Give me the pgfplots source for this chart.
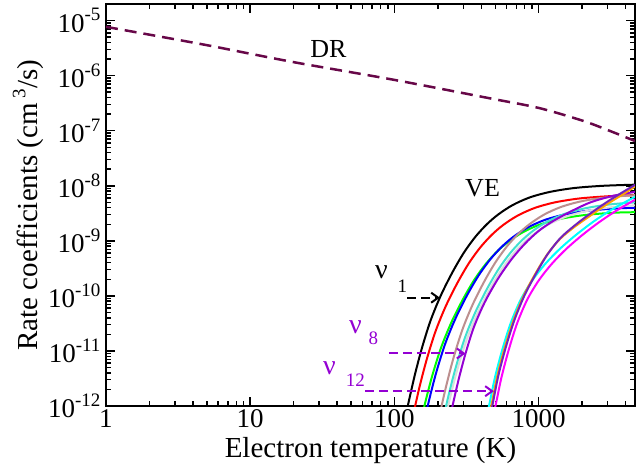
\documentclass[border=0pt]{standalone}
\usepackage{fontspec}
\setmainfont{Liberation Serif}
\usepackage{pgfplots}
\pgfplotsset{compat=1.18}
\usetikzlibrary{arrows.meta}
\definecolor{grmaroon}{RGB}{103,7,72}
\definecolor{grred}{RGB}{255,0,0}
\definecolor{grgreen}{RGB}{0,255,0}
\definecolor{grblue}{RGB}{0,0,255}
\definecolor{grbrown}{RGB}{188,143,143}
\definecolor{grgrey}{RGB}{220,220,220}
\definecolor{grviolet}{RGB}{148,0,211}
\definecolor{grcyan}{RGB}{0,255,255}
\definecolor{grmagenta}{RGB}{255,0,255}
\definecolor{grorange}{RGB}{255,165,0}
\definecolor{grindigo}{RGB}{114,33,188}
\definecolor{grturq}{RGB}{64,224,208}
\newcommand{\grsup}[1]{\raisebox{0.42em}{\fontsize{19}{20}\selectfont #1}}
\begin{document}
\begin{tikzpicture}
\path[use as bounding box] (-106pt,-60pt) rectangle (535pt,406pt);
\begin{axis}[
  at={(0,0)}, anchor=south west,
  scale only axis, width=529pt, height=402pt,
  xmode=log, ymode=log,
  xmin=1, xmax=4650, ymin=1e-12, ymax=2e-5,
  xtick={1,10,100,1000}, xticklabels={1,10,100,1000},
  ytick={1e-12,1e-11,1e-10,1e-9,1e-8,1e-7,1e-6,1e-5},
  yticklabels={10\grsup{-12},10\grsup{-11},10\grsup{-10},10\grsup{-9},10\grsup{-8},10\grsup{-7},10\grsup{-6},10\grsup{-5}},
  xminorticks=false, yminorticks=false,
  tick align=inside, major tick length=9pt,
  tick style={draw=black, line width=1.5pt},
  axis line style={line width=2pt},
  tick label style={font=\fontsize{27}{30}\selectfont},
  yticklabel style={xshift=-2pt},
  xlabel={Electron temperature (K)},
  ylabel={Rate coefficients (cm\,\grsup{3}/s)},
  label style={font=\fontsize{29}{32}\selectfont},
  xlabel style={at={(axis description cs:0.5,-0.11)}, anchor=center},
  ylabel style={at={(axis description cs:-0.147,0.5)}, anchor=center},
  every axis plot/.append style={line width=2pt, smooth, tension=0.5},
]
% tick marks as short segments along the frame
\pgfplotsinvokeforeach{2,3,4,5,6,7,8,9,20,30,40,50,60,70,80,90,200,300,400,500,600,700,800,900,2000,3000,4000}{
  \addplot[black, line width=1.5pt, sharp plot, forget plot] coordinates {(#1,1e-12) (#1,1.23e-12)};
  \addplot[black, line width=1.5pt, sharp plot, forget plot] coordinates {(#1,2e-5) (#1,1.63e-5)};
}
\pgfplotsinvokeforeach{1,10,100,1000}{
  \addplot[black, line width=1.5pt, sharp plot, forget plot] coordinates {(#1,1e-12) (#1,1.46e-12)};
  \addplot[black, line width=1.5pt, sharp plot, forget plot] coordinates {(#1,2e-5) (#1,1.37e-5)};
}
\pgfplotsinvokeforeach{2e-12,3e-12,4e-12,5e-12,6e-12,7e-12,8e-12,9e-12,2e-11,3e-11,4e-11,5e-11,6e-11,7e-11,8e-11,9e-11,2e-10,3e-10,4e-10,5e-10,6e-10,7e-10,8e-10,9e-10,2e-9,3e-9,4e-9,5e-9,6e-9,7e-9,8e-9,9e-9,2e-8,3e-8,4e-8,5e-8,6e-8,7e-8,8e-8,9e-8,2e-7,3e-7,4e-7,5e-7,6e-7,7e-7,8e-7,9e-7,2e-6,3e-6,4e-6,5e-6,6e-6,7e-6,8e-6,9e-6}{
  \addplot[black, line width=1.5pt, sharp plot, forget plot] coordinates {(1,#1) (1.083,#1)};
  \addplot[black, line width=1.5pt, sharp plot, forget plot] coordinates {(4650,#1) (4294,#1)};
}
\pgfplotsinvokeforeach{1e-12,1e-11,1e-10,1e-9,1e-8,1e-7,1e-6,1e-5}{
  \addplot[black, line width=1.5pt, sharp plot, forget plot] coordinates {(1,#1) (1.155,#1)};
  \addplot[black, line width=1.5pt, sharp plot, forget plot] coordinates {(4650,#1) (4026,#1)};
}
\addplot[grmaroon, line width=2.5pt, dash pattern=on 12pt off 7pt] coordinates {
(1,7.7e-6) (4.5,3.77e-6) (10,2.5e-6) (22,1.68e-6) (100,8.36e-7) (464,3.85e-7) (1000,2.59e-7) (2000,1.53e-7) (3000,1.03e-7) (4650,6.5e-8)};
\addplot[black] coordinates {
(114.8,4.17e-13) (123.6,1e-12) (138.0,3.55e-12) (154.9,1.122e-11) (177.8,3.55e-11) (208.9,1e-10) (251.2,2.63e-10) (302.0,6.03e-10) (363.1,1.175e-9) (436.5,1.995e-9) (524.8,3.02e-9) (660.7,4.47e-9) (871.0,6.17e-9) (1202,7.76e-9) (1778,9.12e-9) (2818,1e-8) (4677,1.047e-8)};
\addplot[grred] coordinates {
(124.5,2.69e-13) (134.0,6.46e-13) (149.6,2.29e-12) (167.9,7.24e-12) (192.8,2.29e-11) (226.5,6.46e-11) (272.3,1.698e-10) (327.3,3.89e-10) (393.6,7.59e-10) (473.2,1.288e-9) (568.9,1.95e-9) (716.1,2.88e-9) (944.1,3.98e-9) (1303,5.01e-9) (1928,5.89e-9) (3055,6.46e-9) (4677,6.76e-9)};
\addplot[grgreen] coordinates {
(146.2,3.24e-13) (163.3,1.148e-12) (183.2,3.63e-12) (210.4,1.148e-11) (247.2,3.24e-11) (297.2,8.51e-11) (357.3,1.95e-10) (429.5,3.8e-10) (516.4,6.46e-10) (620.9,9.77e-10) (781.6,1.445e-9) (1030,1.995e-9) (1422,2.51e-9) (2104,2.95e-9) (3334,3.24e-9) (4677,3.31e-9)};
\addplot[grblue] coordinates {
(156.7,3.89e-13) (175.0,1.38e-12) (196.3,4.37e-12) (225.4,1.38e-11) (264.9,3.89e-11) (318.4,1.023e-10) (382.8,2.34e-10) (460.3,4.57e-10) (553.4,7.76e-10) (665.3,1.175e-9) (837.5,1.74e-9) (1104,2.40e-9) (1524,3.02e-9) (2254,3.55e-9) (3573,3.89e-9) (4677,3.98e-9)};
\addplot[grbrown] coordinates {
(190.5,2.82e-13) (205.1,6.76e-13) (229.1,2.40e-12) (257.0,7.59e-12) (295.1,2.40e-11) (346.7,6.76e-11) (416.9,1.778e-10) (501.2,4.07e-10) (602.6,7.94e-10) (724.4,1.349e-9) (871.0,2.04e-9) (1096,3.02e-9) (1445,4.17e-9) (1995,5.25e-9) (2951,6.17e-9) (4677,6.76e-9)};
\addplot[grgrey] coordinates {
(204.2,1.86e-13) (219.8,4.47e-13) (245.5,1.585e-12) (275.4,5.01e-12) (316.2,1.585e-11) (371.5,4.47e-11) (446.7,1.175e-10) (537.0,2.69e-10) (645.7,5.25e-10) (776.2,8.91e-10) (933.3,1.349e-9) (1175,1.995e-9) (1549,2.75e-9) (2138,3.47e-9) (3162,4.07e-9) (4677,4.42e-9)};
\addplot[grturq] coordinates {
(199.5,2.09e-13) (214.8,5.01e-13) (239.9,1.778e-12) (269.2,5.62e-12) (309.0,1.778e-11) (363.1,5.01e-11) (436.5,1.318e-10) (524.8,3.02e-10) (631.0,5.89e-10) (758.6,1e-9) (912.0,1.514e-9) (1148,2.24e-9) (1514,3.09e-9) (2089,3.89e-9) (3090,4.57e-9) (4677,5.01e-9)};
\addplot[grviolet] coordinates {
(229.1,3.16e-13) (246.6,7.59e-13) (275.4,2.69e-12) (309.0,8.51e-12) (354.8,2.69e-11) (421.7,7.59e-11) (518.8,1.995e-10) (645.7,4.57e-10) (803.5,8.91e-10) (1000,1.514e-9) (1259,2.29e-9) (1660,3.39e-9) (2291,5.01e-9) (3311,6.61e-9) (4677,7.76e-9)};
\addplot[grcyan] coordinates {
(421.7,5.01e-13) (451.9,1e-12) (495.5,3.16e-12) (555.9,1e-11) (638.3,3.16e-11) (749.9,8.51e-11) (901.6,1.905e-10) (1109,3.80e-10) (1396,7.08e-10) (1799,1.259e-9) (2371,2.19e-9) (3126,3.55e-9) (4217,5.50e-9) (4677,6.31e-9)};
\addplot[grmagenta] coordinates {
(467.7,5.01e-13) (501.2,1e-12) (549.5,3.16e-12) (616.6,1e-11) (707.9,3.16e-11) (831.8,8.51e-11) (1000,1.905e-10) (1230,3.80e-10) (1549,7.08e-10) (1995,1.259e-9) (2630,2.19e-9) (3467,3.55e-9) (4677,5.62e-9)};
\addplot[grorange] coordinates {
(439.5,4.47e-13) (468.8,1e-12) (516.4,3.55e-12) (579.4,1.122e-11) (666.8,3.55e-11) (785.2,1e-10) (946.2,2.51e-10) (1143,5.62e-10) (1413,1.096e-9) (1786,1.82e-9) (2317,2.95e-9) (2999,4.68e-9) (3864,7.08e-9) (4677,9.77e-9)};
\addplot[grindigo] coordinates {
(446.7,4.47e-13) (476.4,1e-12) (524.8,3.55e-12) (588.8,1.122e-11) (676.1,3.55e-11) (794.3,1e-10) (955.0,2.51e-10) (1148,5.62e-10) (1413,1.122e-9) (1778,1.905e-9) (2291,3.16e-9) (2951,5.01e-9) (3802,7.59e-9) (4677,1.047e-8)};
% arrows
\addplot[color=black, draw=black, sharp plot, line width=2pt, dash pattern=on 9pt off 5pt, -{Straight Barb[length=7pt,width=10pt]}] coordinates {(122.5,9.27e-11) (206.5,9.27e-11)};
\addplot[color=grviolet, draw=grviolet, sharp plot, line width=2pt, dash pattern=on 9pt off 5pt, -{Straight Barb[length=7pt,width=10pt]}] coordinates {(91.3,9.0e-12) (311,9.0e-12)};
\addplot[color=grviolet, draw=grviolet, sharp plot, line width=2pt, dash pattern=on 9pt off 5pt, -{Straight Barb[length=7pt,width=10pt]}] coordinates {(62.9,1.86e-12) (489,1.86e-12)};
\node[font=\fontsize{26}{30}\selectfont] at (axis cs:34.8,3.0e-6) {DR};
\node[font=\fontsize{26}{30}\selectfont] at (axis cs:408,9.2e-9) {VE};
\node[font=\fontsize{28}{30}\selectfont] at (axis cs:81.3,2.72e-10) {ν};
\node[font=\fontsize{19}{22}\selectfont] at (axis cs:113.6,1.51e-10) {1};
\node[text=grviolet, font=\fontsize{28}{30}\selectfont] at (axis cs:53.6,2.71e-11) {ν};
\node[text=grviolet, font=\fontsize{19}{22}\selectfont] at (axis cs:71.5,1.71e-11) {8};
\node[text=grviolet, font=\fontsize{28}{30}\selectfont] at (axis cs:35.4,4.86e-12) {ν};
\node[text=grviolet, font=\fontsize{19}{22}\selectfont] at (axis cs:53.6,2.94e-12) {12};
\end{axis}
\end{tikzpicture}
\end{document}
